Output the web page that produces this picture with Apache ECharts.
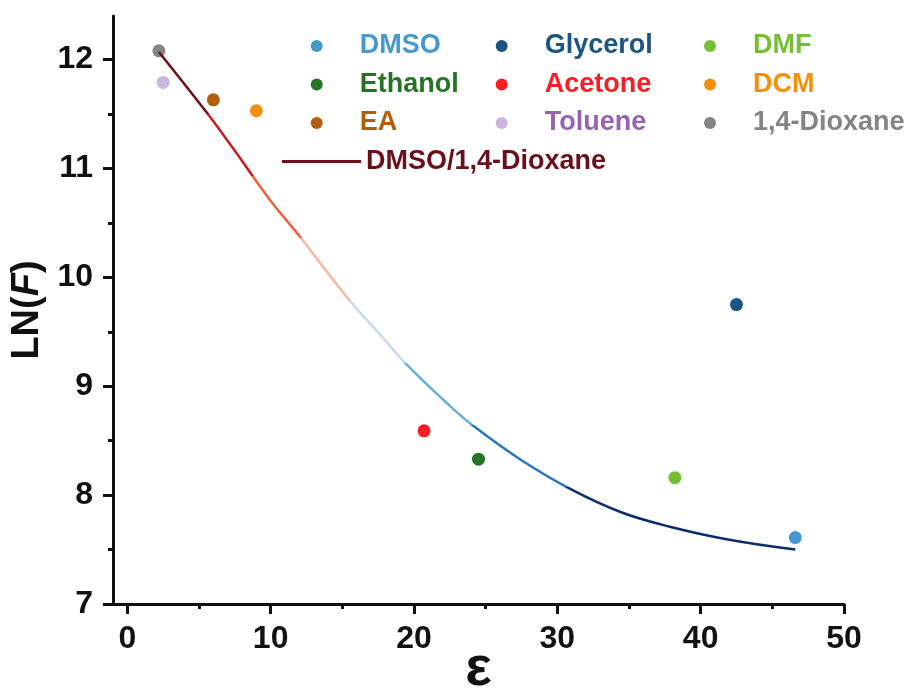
<!DOCTYPE html>
<html>
<head>
<meta charset="utf-8">
<script src="https://cdn.jsdelivr.net/npm/echarts@6/dist/echarts.min.js"></script>
<style>html,body{margin:0;padding:0;background:#fff}#c{width:912px;height:693px}</style>
</head>
<body>
<div id="c"></div>
<script>
// ---- data ----
var solventNames = ['DMSO','Glycerol','DMF','Ethanol','Acetone','DCM','EA','Toluene','1,4-Dioxane'];
var epsilonValues = [46.6, 42.5, 38.2, 24.5, 20.7, 9.0, 6.0, 2.5, 2.2];
var lnFValues = [7.61, 9.75, 8.16, 8.33, 8.59, 11.53, 11.63, 11.79, 12.08];
var dotColors = ['#4599cf','#1b5582','#76bf35','#257425','#fb1c24','#f4900c','#b25e0c','#cbb6dd','#858585'];
var textColors = ['#4599cf','#1b5582','#76bf35','#257425','#fb1c24','#f4900c','#b25e0c','#9663b4','#848484'];
var fitName = 'DMSO/1,4-Dioxane';
var fitX = [2.2, 5.5, 7.35, 9.9, 12.0, 15.5, 17.6, 19.34, 22.5, 24.1, 27.5, 31.0, 34.5, 37.85, 42.0, 46.6];
var fitY = [12.07, 11.52, 11.19, 10.72, 10.38, 9.79, 9.48, 9.22, 8.82, 8.64, 8.32, 8.05, 7.84, 7.71, 7.59, 7.50];
var xTicks = [0, 10, 20, 30, 40, 50];
var xMinorTicks = [5, 15, 25, 35, 45];
var yTicks = [7, 8, 9, 10, 11, 12];
var yMinorTicks = [7.5, 8.5, 9.5, 10.5, 11.5];
var levelBounds = [7.4, 8.07, 8.64, 9.21, 9.78, 10.36, 10.93, 11.5, 12.2];
var levelColors = ['#0b2d6b','#2b78ba','#6baed6','#c6dbee','#f9b8a0','#f0603f','#cb1a22','#6e0b17'];

var chart = echarts.init(document.getElementById('c'));
var FONT = 'Arial, "Liberation Sans", sans-serif';
var AX = '#111';

var series = solventNames.map(function (n, i) {
  return {
    name: n, type: 'scatter', xAxisIndex: 0, yAxisIndex: 0,
    symbol: 'circle', symbolSize: 13,
    itemStyle: { color: dotColors[i], opacity: 1 },
    data: [[epsilonValues[i], lnFValues[i]]],
    z: 2
  };
});
series.push({
  name: fitName, type: 'line', xAxisIndex: 0, yAxisIndex: 0,
  smooth: 0.4, showSymbol: false, symbol: 'none',
  lineStyle: { width: 2.5 },
  data: fitX.map(function (x, i) { return [x, fitY[i]]; }),
  z: 5
});

var pieces = [];
for (var k = 0; k < levelColors.length; k++) {
  pieces.push({ gte: levelBounds[k], lt: levelBounds[k + 1], color: levelColors[k] });
}

function colLegend(names, dotX) {
  return {
    orient: 'vertical', left: dotX - 6, top: 32.5, itemGap: 11.5, padding: 0,
    itemWidth: 12, itemHeight: 12, icon: 'circle',
    textStyle: { fontFamily: FONT, fontWeight: 'bold', fontSize: 27, padding: [0, 0, 0, 32] },
    data: names.map(function (n) {
      var i = solventNames.indexOf(n);
      return { name: n, textStyle: { color: textColors[i] }, itemStyle: { color: dotColors[i] } };
    })
  };
}

var axisLineStyle = { show: true, onZero: false, lineStyle: { color: AX, width: 3 } };

chart.setOption({
  animation: false,
  backgroundColor: '#fff',
  grid: { left: 113, right: 68, top: 16, bottom: 89, containLabel: false, outerBoundsMode: 'none' },
  legend: [
    colLegend(['DMSO','Ethanol','EA'], 316.7),
    colLegend(['Glycerol','Acetone','Toluene'], 501.7),
    colLegend(['DMF','DCM','1,4-Dioxane'], 710),
    {
      left: 282, top: 148, itemWidth: 79, itemHeight: 3, icon: 'rect', padding: 0,
      textStyle: { fontFamily: FONT, fontWeight: 'bold', fontSize: 27 },
      data: [{ name: fitName, textStyle: { color: '#6b0f1a' }, itemStyle: { color: '#6e0f1c' } }]
    }
  ],
  visualMap: {
    show: false, type: 'piecewise', seriesIndex: solventNames.length, dimension: 1,
    pieces: pieces
  },
  xAxis: [{
    type: 'value', min: -1, max: 50, position: 'bottom',
    axisLine: axisLineStyle,
    axisTick: { show: true, customValues: xTicks, length: 10, lineStyle: { color: AX, width: 3 } },
    axisLabel: { customValues: xTicks, margin: 19, color: '#111', fontFamily: FONT, fontWeight: 'bold', fontSize: 32 },
    splitLine: { show: false },
    name: 'ε', nameLocation: 'middle', nameGap: 38, nameMoveOverlap: false,
    nameTextStyle: { fontFamily: FONT, fontWeight: 'bold', fontSize: 56, color: '#111' }
  }, {
    type: 'value', min: -1, max: 50, position: 'bottom', gridIndex: 0,
    axisLine: { show: false, onZero: false },
    axisTick: { show: true, customValues: xMinorTicks, length: 5, lineStyle: { color: AX, width: 3 } },
    axisLabel: { show: false },
    splitLine: { show: false }
  }],
  yAxis: [{
    type: 'value', min: 7, max: 12.4, position: 'left',
    axisLine: axisLineStyle,
    axisTick: { show: true, customValues: yTicks, length: 10, lineStyle: { color: AX, width: 3 } },
    axisLabel: { customValues: yTicks, margin: 20, color: '#111', fontFamily: FONT, fontWeight: 'bold', fontSize: 32 },
    splitLine: { show: false },
    name: '{a|LN(}{b|F}{a|)}', nameLocation: 'middle', nameGap: 66, nameRotate: 90, nameMoveOverlap: false,
    nameTextStyle: {
      rich: {
        a: { fontFamily: FONT, fontWeight: 'bold', fontSize: 38, color: '#111' },
        b: { fontFamily: FONT, fontWeight: 'bold', fontStyle: 'italic', fontSize: 38, color: '#111' }
      }
    }
  }, {
    type: 'value', min: 7, max: 12.4, position: 'left', gridIndex: 0,
    axisLine: { show: false, onZero: false },
    axisTick: { show: true, customValues: yMinorTicks, length: 5, lineStyle: { color: AX, width: 3 } },
    axisLabel: { show: false },
    splitLine: { show: false }
  }],
  series: series
});
</script>
</body>
</html>
